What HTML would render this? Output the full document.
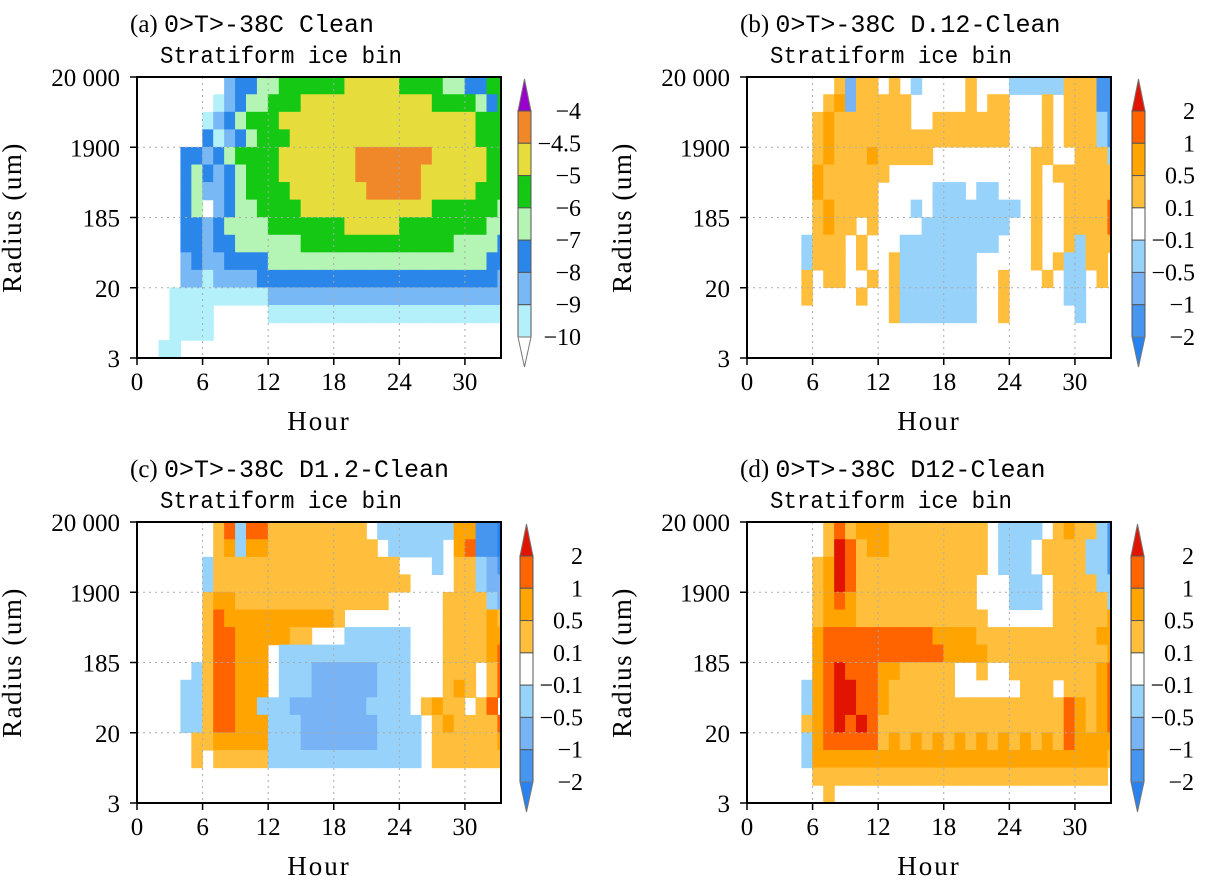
<!DOCTYPE html>
<html><head><meta charset="utf-8">
<style>
html,body{margin:0;padding:0;background:#fff;}
svg{display:block;}
</style></head>
<body>
<svg id="fig" width="1210" height="884" viewBox="0 0 1210 884" xmlns="http://www.w3.org/2000/svg"></svg>
<script>
// ---------- data ----------
const hourTicks = [0, 6, 12, 18, 24, 30];
const radiusTicks = ["3", "20", "185", "1900", "20 000"];
const hourMax = 33.3;
const absLevels = ["-4", "-4.5", "-5", "-6", "-7", "-8", "-9", "-10"];
const diffLevels = ["2", "1", "0.5", "0.1", "-0.1", "-0.5", "-1", "-2"];
const absCodes = ["P", "o", "y", "g", "l", "b", "m", "c", "."];
const diffCodes = ["R", "r", "o", "y", ".", "a", "p", "q", "Q"];
const titlesA = ["(a)", "(b)", "(c)", "(d)"];
const titlesB = ["0>T>-38C Clean", "0>T>-38C D.12-Clean", "0>T>-38C D1.2-Clean", "0>T>-38C D12-Clean"];
// grids: rows top (20000) -> bottom (3), columns = hour 0..33; one char = one level code
const gridA = [
"........mbbllggggggyyyyyggggllbbgg",
".......cmbllgggyyyyyyyyyyyygggglbgg",
"......cmblgggyyyyyyyyyyyyyyyyyyggg",
"......bcmblgggyyyyyyyyyyyyyyyyyggg",
"....bbmblggggyyyyyyyoooooooyyyyygg",
"....blbmblgggyyyyyyyooooooyyyyyygg",
"....blmmblggggyyyyyyyoooooyyyyyggg",
"....bl.mbllggggyyyyyyyyyyyyggggggl",
"....bbmbllllgggggggyyyyyggggggggll",
"....bbmbbllllllggggggggggggggllllb",
"....mbmmbbbbllllllllllllllllllllbb",
"....mmcmmmmbbbbbbbbbbbbbbbbbbbbbbm",
"...cccccccccmmmmmmmmmmmmmmmmmmmmmm",
"...cccc.....cccccccccccccccccccccc",
"...cccc...........................",
"..cc.............................."];
const gridB = [
"........ypyy.y.a....y...aaaaayyyqq",
".......yopyyyyy.....y.yy...y.yyyqq",
"......yoyyyyyyy..yyyyyyy...y.yyyaq",
"......yoyyyyyyyyyyyyyyyy...y.yyyaq",
"......yoyyyoyyyyy.........yy..yyya",
"......oyyyyyy.............y.yyyyyy",
"......oyyyyy.....aaa.aa...y..yyyyy",
"......yoyyyy...a.aaaaaaaa.y..yyyyr",
"......yoyy.y....aaaaaaaa..y..yyyyr",
".....ayyy.y...aaaaaaaaa...y..yayyy",
".....ayyy.y..yaaaaaaa.....y.yaayy.",
".....y.yy..y.yaaaaaaa..y...y.aa.y.",
".....y....y..yaaaaaaa..y.....aa...",
".............yaaaaaaa..y......a...",
"..................................",
".................................."];
const gridC = [
".......yrarryyyyyyyyy.aaaaaaaooqqQ",
".......yoaooyyyyyyyyyy.aaaaa.orqqQ",
"......ayyyyyyyyyyyyyyyyy...a.yyapq",
"......ayyyyyyyyyyyyyyyyyy....yyapp",
"......yooyyyyyyyyyyyyyy.....yyyyap",
"......yrooooooooooy.........yyyyoy",
"......yrroooooyy...aaaaaa...yyyyoo",
"......yrrooo.aaaaaaaaaaaa...yyyyor",
".....ayrrooo.aaappppppaaa...yyy.yr",
"....aayrrooo.aaappppppaaa...yoy.yr",
"....aayrrooaaapppppppaaaa.yoyy.yr",
"....aayrroooaaapppppppaaaa.yoyyyyr",
".....yyoooooaaapppppppaaaa.yyyyyyo",
".....y.yyyyyaaaaaaaaaaaaaa.yyyyyyy",
"..................................",
".................................."];
const gridD = [
".......yryoooyyyyyyyyy.aaaa.yoyyaq",
".......yRryooyyyyyyyyy.aaa.yyyyaaq",
"......yoRryyyyyyyyyyyy.aaa.yyyyaaq",
"......yoRryyyyyyyyyyy...aaa.yyyyaa",
"......yoroyyyyyyyyyyy...aaa.yyyyya",
"......yoooyyyyyyyyyyyy......yyyyyo",
"......orrrrrrrrrrooooyyyyyyyyyyyoo",
"......orrrrrrrrrrrooooyyyyyyyyyyyor",
"......orRrrrooyyyyy..y..yyyyyyyyor",
".....aorRRrroyyyyyy......yyy.yyyor",
".....aorRRrroyyyyyyyyyyyyyyyyroyor",
".....yorRrRryyyyyyyyyyyyyyyyyroyor",
".....aorrrrryoyoyoyoyoyoyoyoyroooo",
".....aoooooooooooooooooooooooooooy",
"......yyyyyyyyyyyyyyyyyyyyyyyyyyy.",
".......y.........................."];
const absColor = {P:"#9900cc",o:"#f0882a",y:"#e6dc3c",g:"#14c814",l:"#b4f4b4",b:"#2b86ea",m:"#78b8f5",c:"#b4f0fa",".":"#ffffff"};
const diffColor = {R:"#e01400",r:"#ff6400",o:"#ffa400",y:"#ffbe3c",".":"#ffffff",a:"#96d2fa",p:"#78b4f5",q:"#4696f0",Q:"#2882f0"};

// ---------- drawing ----------
const NS = "http://www.w3.org/2000/svg";
const svg = document.getElementById("fig");
function mk(tag, attrs, parent){ const e=document.createElementNS(NS,tag); for(const k in attrs) e.setAttribute(k,attrs[k]); (parent||svg).appendChild(e); return e; }

const panels = [
 {x0:137,y0:77,x1:501,y1:358,cb:518,grid:gridA,codes:absCodes,col:absColor,levels:absLevels},
 {x0:747,y0:77,x1:1111,y1:358,cb:1132,grid:gridB,codes:diffCodes,col:diffColor,levels:diffLevels},
 {x0:137,y0:522,x1:501,y1:803,cb:520,grid:gridC,codes:diffCodes,col:diffColor,levels:diffLevels},
 {x0:747,y0:522,x1:1111,y1:803,cb:1131,grid:gridD,codes:diffCodes,col:diffColor,levels:diffLevels}
];
const NCOL = 34, NROW = 16;

panels.forEach((P, pi) => {
  const g = mk("g", {});
  
  
  const xs = h => P.x0 + (P.x1 - P.x0) * h / hourMax;
  const ys = r => P.y0 + (P.y1 - P.y0) * r / NROW;
  const yTick = i => P.y1 - (P.y1 - P.y0) * i / (radiusTicks.length - 1);
  const clipId = "clip" + pi;
  const cp = mk("clipPath", {id: clipId}, g);
  mk("rect", {x:P.x0, y:P.y0, width:P.x1-P.x0, height:P.y1-P.y0}, cp);
  const cells = mk("g", {"clip-path": "url(#"+clipId+")"}, g);
  
  
  P.grid.forEach((row, r) => {
    for (let c = 0; c < NCOL; c++) {
      const ch = row[c] || ".";
      if (ch === ".") continue;
      const rect = mk("rect", {x: xs(c)-0.3, y: ys(r)-0.3, width: xs(c+1)-xs(c)+0.6, height: ys(r+1)-ys(r)+0.6, fill: P.col[ch]}, cells);
      
      
    }
  });
  hourTicks.forEach((h) => {
    if (h === 0) return;
    mk("line", {x1:xs(h), x2:xs(h), y1:P.y0, y2:P.y1, stroke:"#aaa", "stroke-width":1, "stroke-dasharray":"2,4"}, g);
  });
  radiusTicks.forEach((t, i) => {
    if (i === 0 || i === radiusTicks.length-1) return;
    mk("line", {x1:P.x0, x2:P.x1, y1:yTick(i), y2:yTick(i), stroke:"#aaa", "stroke-width":1, "stroke-dasharray":"2,4"}, g);
  });
  const frame = mk("rect", {x:P.x0, y:P.y0, width:P.x1-P.x0, height:P.y1-P.y0, fill:"none", stroke:"#000", "stroke-width":2}, g);
  
  
  hourTicks.forEach((h) => {
    mk("line", {x1:xs(h), x2:xs(h), y1:P.y1, y2:P.y1+7, stroke:"#000", "stroke-width":1.5}, g);
    const t = mk("text", {x:xs(h), y:P.y1+32, "text-anchor":"middle", "font-family":"Liberation Serif, serif", "font-size":25}, g);
    t.textContent = h;
    
    
  });
  radiusTicks.forEach((lab, i) => {
    mk("line", {x1:P.x0-7, x2:P.x0, y1:yTick(i), y2:yTick(i), stroke:"#000", "stroke-width":1.5}, g);
    const t = mk("text", {x:P.x0-17, y:yTick(i)+9, "text-anchor":"end", "font-family":"Liberation Serif, serif", "font-size":25}, g);
    t.textContent = lab;
    
    
  });
  const xl = mk("text", {x:(P.x0+P.x1)/2, y:P.y1+72, "text-anchor":"middle", "font-family":"Liberation Serif, serif", "font-size":27, "letter-spacing":"2"}, g);
  xl.textContent = "Hour";
  
  
  const yl = mk("text", {x:0, y:0, transform:"translate("+(P.x0-116)+","+((P.y0+P.y1)/2)+") rotate(-90)", "text-anchor":"middle", "font-family":"Liberation Serif, serif", "font-size":27, "letter-spacing":"1.5"}, g);
  yl.textContent = "Radius (um)";
  
  
  const t1 = mk("text", {x:P.x0-7, y:P.y0-45, "font-size":25}, g);
  
  
  const s1 = mk("tspan", {"font-family":"Liberation Serif, serif"}, t1); s1.textContent = titlesA[pi] + " ";
  const s2 = mk("tspan", {"font-family":"Liberation Mono, monospace", "font-size":25}, t1); s2.textContent = titlesB[pi];
  const t2 = mk("text", {x:P.x0+23, y:P.y0-14, "font-family":"Liberation Mono, monospace", "font-size":24, textLength:242, lengthAdjust:"spacingAndGlyphs"}, g);
  t2.textContent = "Stratiform ice bin";
  
  
  const cb = mk("g", {}, g);
  
  
  const cx0 = P.cb, cw = 13, top = P.y0+2, rTop = P.y0+34, rBot = P.y0+260, bot = P.y0+290;
  const nb = P.levels.length - 1, bh = (rBot - rTop) / nb;
  mk("polygon", {points: cx0+","+rTop+" "+(cx0+cw)+","+rTop+" "+(cx0+cw/2)+","+top, fill:P.col[P.codes[0]], stroke:"#777", "stroke-width":1}, cb);
  for (let k = 0; k < nb; k++) {
    mk("rect", {x:cx0, y:rTop+k*bh, width:cw, height:bh, fill:P.col[P.codes[k+1]], stroke:"#555", "stroke-width":1}, cb);
  }
  mk("polygon", {points: cx0+","+rBot+" "+(cx0+cw)+","+rBot+" "+(cx0+cw/2)+","+bot, fill:P.col[P.codes[P.codes.length-1]], stroke:"#777", "stroke-width":1}, cb);
  P.levels.forEach((lab, k) => {
    const t = mk("text", {x:cx0+cw+50, y:rTop+k*bh+8, "text-anchor":"end", "font-family":"Liberation Serif, serif", "font-size":24}, cb);
    t.textContent = lab.replace("-", "\u2212");
    
    
  });
});
</script>
</body></html>
